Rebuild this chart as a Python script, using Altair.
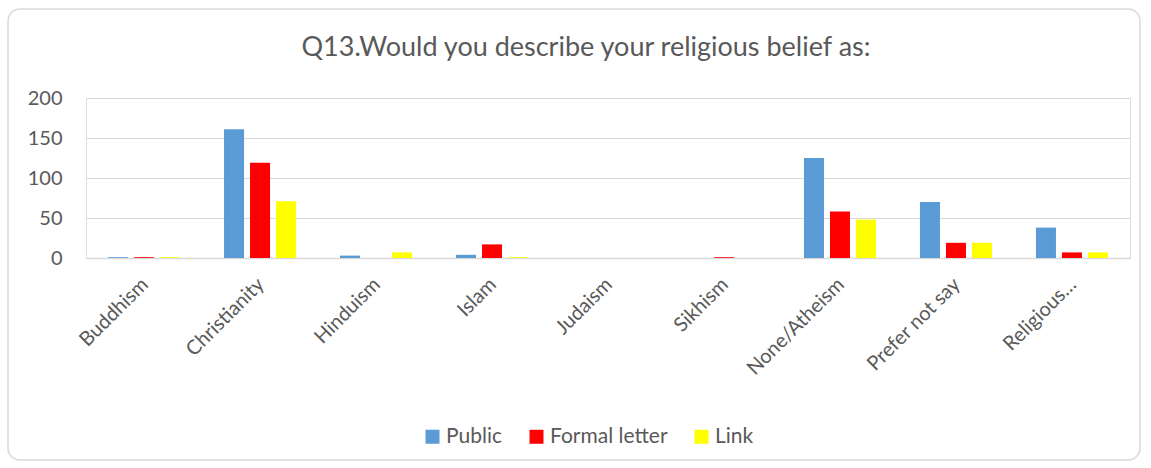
import altair as alt
import pandas as pd

title_text = "Q13.Would you describe your religious belief as:"
categories = ["Buddhism", "Christianity", "Hinduism", "Islam", "Judaism",
              "Sikhism", "None/Atheism", "Prefer not say", "Religious…"]
series = ["Public", "Formal letter", "Link"]
public = [1, 161, 3, 4, 0, 0, 125, 70, 38]
formal_letter = [1, 119, 0, 17, 0, 1, 58, 19, 7]
link = [1, 71, 7, 1, 0, 0, 48, 19, 7]
colors = ["#5b9bd5", "#ff0000", "#ffff00"]

rows = []
for i, c in enumerate(categories):
    for s, vals in zip(series, [public, formal_letter, link]):
        rows.append({"category": c, "series": s, "value": vals[i]})
df = pd.DataFrame(rows)

FONT = "Lato"
GRAY = "#595959"
FS = 20

bars = alt.Chart(df).mark_bar().encode(
    x=alt.X("category:N", sort=categories, title=None,
            scale=alt.Scale(paddingInner=0.379, paddingOuter=0.19),
            axis=alt.Axis(labelAngle=-45, ticks=False, domainColor="#d9d9d9",
                          domainWidth=1.5, labelFontSize=FS, labelColor=GRAY,
                          labelFont=FONT, labelPadding=16, labelOffset=-6, grid=False)),
    xOffset=alt.XOffset("series:N", sort=series,
                        scale=alt.Scale(paddingInner=0.23, paddingOuter=0)),
    y=alt.Y("value:Q", title=None,
            scale=alt.Scale(domain=[0, 200]),
            axis=alt.Axis(values=[0, 50, 100, 150, 200], domain=False, ticks=False,
                          gridColor="#d9d9d9", gridWidth=1, labelFontSize=FS,
                          labelColor=GRAY, labelFont=FONT, labelPadding=24)),
    color=alt.Color("series:N", sort=series,
                    scale=alt.Scale(domain=series, range=colors),
                    legend=alt.Legend(title=None, orient="none", direction="horizontal",
                                      legendX=336, legendY=328, symbolType="square",
                                      symbolSize=196, symbolStrokeWidth=0,
                                      labelFontSize=21, labelColor=GRAY, labelFont=FONT,
                                      columnPadding=23, labelOffset=3)),
)

frame = alt.Chart(pd.DataFrame({"a": [0]})).mark_rect(
    fill=None, stroke="#d9d9d9", strokeWidth=1.5, cornerRadius=12
).encode(x=alt.value(-78), x2=alt.value(1054), y=alt.value(-89), y2=alt.value(362))

title = alt.Chart(pd.DataFrame({"t": [title_text]})).mark_text(
    font=FONT, fontSize=27, color=GRAY, align="center", baseline="alphabetic"
).encode(text="t:N", x=alt.value(500), y=alt.value(-42))

chart = alt.layer(frame, title, bars).properties(
    width=1044, height=160,
    autosize=alt.AutoSizeParams(type="none"),
    padding={"left": 86, "top": 98, "right": 21, "bottom": 210},
).configure_view(stroke=None).configure(background="white")

chart.save("out.html", embed_options={"renderer": "svg", "actions": False})
